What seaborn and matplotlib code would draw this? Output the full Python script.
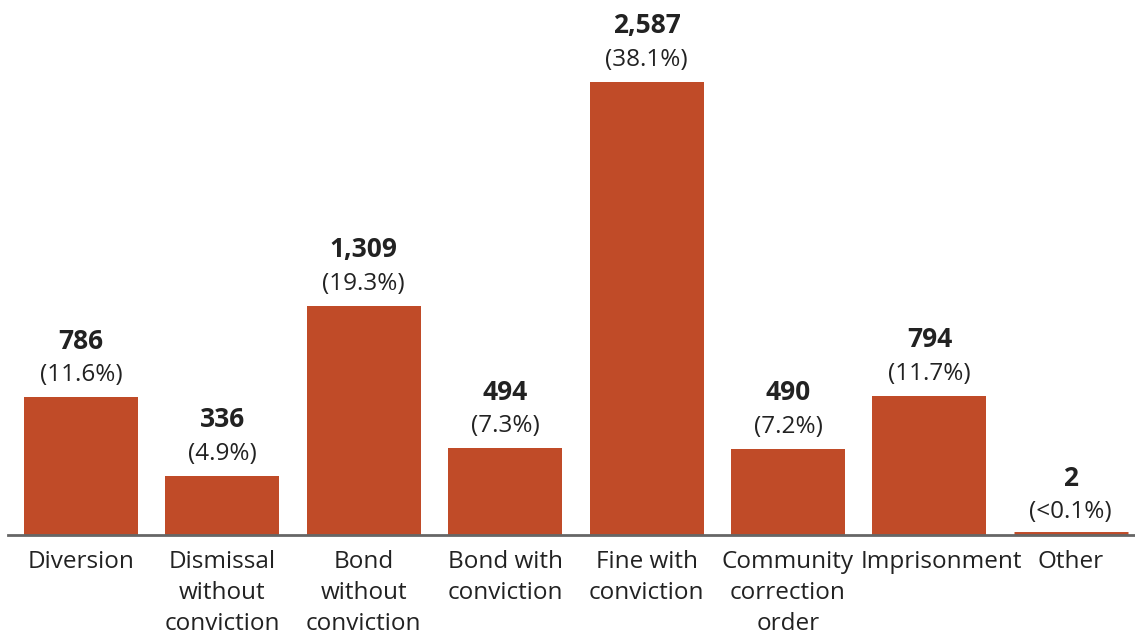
import matplotlib
matplotlib.use("Agg")
import matplotlib.pyplot as plt
import matplotlib.transforms as mtransforms
import seaborn as sns
import pandas as pd

categories = ["Diversion", "Dismissal\nwithout\nconviction", "Bond\nwithout\nconviction",
              "Bond with\nconviction", "Fine with\nconviction", "Community\ncorrection\norder",
              "Imprisonment", "Other"]
counts = [786, 336, 1309, 494, 2587, 490, 794, 2]
shares = ["(11.6%)", "(4.9%)", "(19.3%)", "(7.3%)", "(38.1%)", "(7.2%)", "(11.7%)", "(<0.1%)"]

BAR = "#C04B28"
TEXT = "#222222"

sns.set_theme(style="white")
plt.rcParams["font.family"] = ["Open Sans", "DejaVu Sans"]

W, H = 1135, 635
fig = plt.figure(figsize=(W / 100, H / 100), dpi=100)
ax = fig.add_axes([8 / W, 100 / H, (W - 8) / W, 535 / H])

df = pd.DataFrame({"category": categories, "count": counts})
sns.barplot(data=df, x="category", y="count", color=BAR, width=0.806,
            saturation=1, ax=ax, linewidth=0)

# give very small bars a minimum visible thickness
for p in ax.patches:
    if p.get_height() < 20:
        p.set_edgecolor(BAR)
        p.set_linewidth(5)

ax.set_xlim(-0.516, 7.454)
ax.set_ylim(0, 2587 * 535 / 453)

for i, (c, s) in enumerate(zip(counts, shares)):
    ax.annotate(f"{c:,}", (i, c), xytext=(0, 40.5), textcoords="offset points",
                ha="center", va="center", fontsize=19, fontweight="bold", color=TEXT)
    ax.annotate(s, (i, c), xytext=(0, 16), textcoords="offset points",
                ha="center", va="center", fontsize=17.5, color=TEXT)

ax.set_xlabel("")
ax.set_ylabel("")
ax.set_yticks([])
ax.tick_params(axis="x", length=0, pad=11, labelsize=17.5, labelcolor=TEXT)
labels = ax.get_xticklabels()
for lbl in labels:
    lbl.set_linespacing(1.38)
# nudge the long single-line label right so it clears its neighbour
labels[6].set_transform(labels[6].get_transform()
                        + mtransforms.ScaledTranslation(12 / 100, 0, fig.dpi_scale_trans))

for side in ["top", "left", "right"]:
    ax.spines[side].set_visible(False)
ax.spines["bottom"].set_color("#666666")
ax.spines["bottom"].set_linewidth(2)
ax.spines["bottom"].set_zorder(5)

fig.savefig("out.png", dpi=100)
